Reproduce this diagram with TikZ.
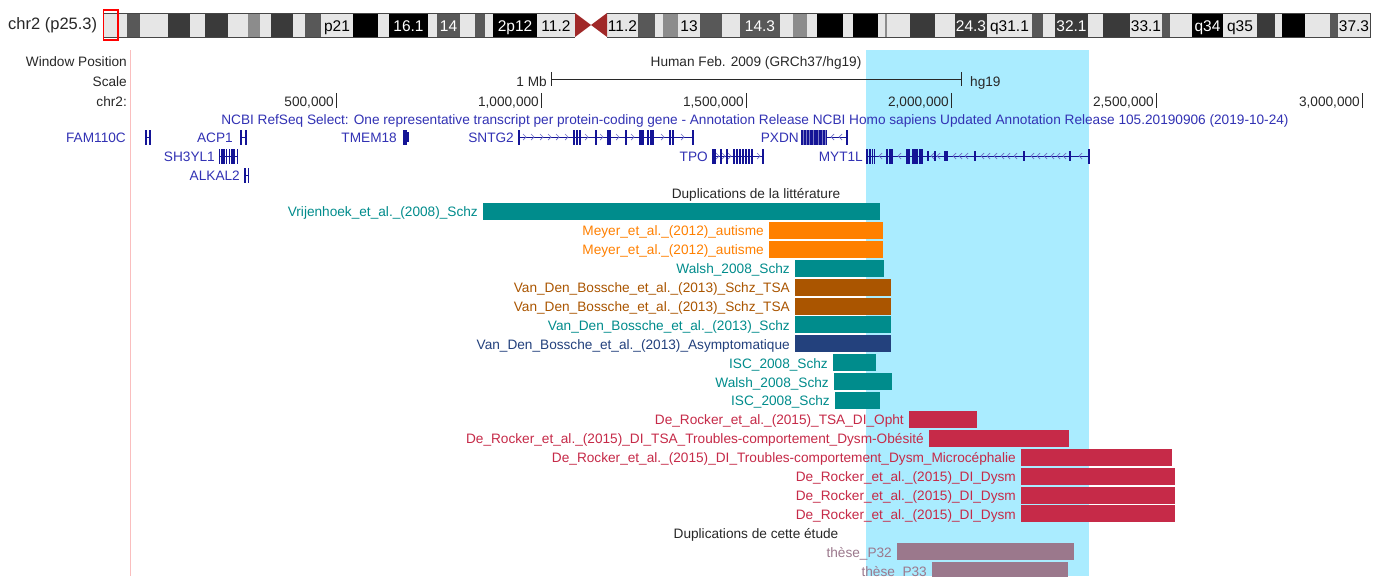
\documentclass[tikz,border=0pt]{standalone}
\usepackage{fontspec}
\setmainfont{Liberation Sans}
\definecolor{bandL}{RGB}{230,230,230}
\definecolor{bandG25}{RGB}{140,140,140}
\definecolor{bandG50}{RGB}{88,88,88}
\definecolor{bandG75}{RGB}{58,58,58}
\definecolor{bandB}{RGB}{0,0,0}
\definecolor{centro}{RGB}{160,40,40}
\definecolor{idborder}{RGB}{70,70,70}
\definecolor{hilite}{RGB}{170,236,255}
\definecolor{pinkline}{RGB}{250,190,190}
\definecolor{txtgray}{RGB}{40,40,40}
\definecolor{geneblue}{RGB}{20,20,150}
\definecolor{genetxt}{RGB}{50,50,180}
\definecolor{chevblue}{RGB}{110,110,200}
\definecolor{tealc}{RGB}{0,140,140}
\definecolor{orangec}{RGB}{255,128,0}
\definecolor{brownc}{RGB}{170,85,0}
\definecolor{navyc}{RGB}{35,65,125}
\definecolor{crimsonc}{RGB}{198,42,72}
\definecolor{mauvec}{RGB}{155,120,140}
\newcommand{\gexon}[2]{\fill[geneblue] (#1-0.65,#2-7.5) rectangle (#1+0.65,#2+7.5);}
\newcommand{\gsmall}[2]{\fill[geneblue] (#1-0.6,#2-5) rectangle (#1+0.6,#2+5);}
\newcommand{\chevR}[2]{\draw[chevron] (#1-2,#2-3) -- (#1+1,#2) -- (#1-2,#2+3);}
\newcommand{\chevL}[2]{\draw[chevron] (#1+2,#2-3) -- (#1-1,#2) -- (#1+2,#2+3);}
\tikzset{
  lbl/.style={font=\fontsize{13.65}{15}\selectfont, inner sep=0pt, text height=11.5pt, text depth=0.7pt},
  bandlbl/.style={font=\fontsize{15.5}{17}\selectfont, inner sep=0pt, text height=11pt, text depth=0pt},
  intron/.style={draw=geneblue, line width=0.9pt},
  chevron/.style={draw=chevblue, line width=0.7pt},
  tick/.style={draw=txtgray, line width=1pt},
}
\begin{document}
\begin{tikzpicture}[x=1pt,y=-1pt]
\clip (0,0) rectangle (1382,576);
\fill[white] (0,0) rectangle (1382,576);

% ---------- ideogram ----------
\node[font=\fontsize{16.5}{18}\selectfont, inner sep=0pt, text=txtgray, anchor=west] (chrlbl) at (8,25) {chr2 (p25.3)};
\foreach \a/\b/\c in {103/127/bandL,127/140/bandG50,140/168/bandL,168/190/bandG75,190/205/bandL,
  205/228/bandG75,228/248/bandL,248/260/bandG25,260/271/bandL,271/293/bandG75,293/305/bandL,
  305/321/bandG50,321/353/bandL,353/378/bandB,378/389/bandL,389/428/bandB,428/437/bandL,
  437/460/bandG50,460/475/bandL,475/485/bandG50,485/493/bandL,493/537/bandB,537/575/bandL,
  607/638/bandL,638/655/bandG50,655/663/bandL,663/678/bandG25,678/700/bandL,700/722/bandG50,
  722/740/bandL,740/780/bandG50,780/793/bandL,793/807/bandG25,807/817/bandL,817/843/bandB,
  843/853/bandL,853/878/bandB,878/885/bandL,885/887/bandG25,887/910/bandL,910/935/bandG75,
  935/955/bandL,955/987/bandG75,987/1032/bandL,1032/1043/bandG50,1043/1055/bandL,
  1055/1088/bandG75,1088/1103/bandL,1103/1130/bandG75,1130/1162/bandL,1162/1170/bandG50,
  1170/1192/bandL,1192/1223/bandB,1223/1257/bandL,1257/1275/bandG75,1275/1282/bandL,
  1282/1305/bandB,1305/1330/bandL,1330/1338/bandG50,1338/1370/bandL}
  \fill[\c] (\a,13) rectangle (\b,37);
\fill[centro] (575,13) -- (591,25) -- (575,37) -- cycle;
\fill[centro] (607,13) -- (591,25) -- (607,37) -- cycle;
\draw[idborder, line width=0.9pt] (575,13) -- (103,13) -- (103,37) -- (575,37);
\draw[idborder, line width=0.9pt] (607,13) -- (1370,13) -- (1370,37) -- (607,37);
\foreach \a/\b/\t/\c [count=\k] in {321/353/p21/black,389/428/16.1/white,437/460/14/white,
  493/537/2p12/white,537/575/11.2/black,607/638/11.2/black,678/700/13/black,740/780/14.3/white,
  955/987/24.3/white,987/1032/q31.1/black,1055/1088/32.1/white,1130/1162/33.1/black,
  1192/1223/q34/white,1223/1257/q35/black,1338/1370/37.3/black}
  \node[bandlbl, text=\c] (band\k) at ({(\a+\b)/2},25.5) {\t};
\draw[red, line width=1.3pt] (103.5,10) rectangle (118,40);

% ---------- window background ----------
\fill[hilite] (866,50) rectangle (1089,576);
\draw[pinkline, line width=1pt] (130,50) -- (130,576);

% ---------- header rows ----------
\node[lbl, text=txtgray, anchor=east] (wp) at (127,61) {Window Position};
\node[lbl, text=txtgray, anchor=east] (sc) at (127,81) {Scale};
\node[lbl, text=txtgray, anchor=east] (chr) at (127,101) {chr2:};
\node[lbl, text=txtgray] (asm) at (756,61) {Human Feb. 2009 (GRCh37/hg19)};
\coordinate (s1) at (551,79);
\coordinate (s2) at (961,79);
\draw[tick] (s1) -- (s2);
\draw[tick] (551,72) -- (551,86);
\draw[tick] (961,72) -- (961,86);
\node[lbl, text=txtgray, anchor=east] (mb) at (547,81) {1 Mb};
\node[lbl, text=txtgray, anchor=west] (hg) at (970,81) {hg19};
\foreach \x/\t [count=\k] in {336/{500,000},541/{1,000,000},746/{1,500,000},951/{2,000,000},1156/{2,500,000},1362/{3,000,000}}{
  \draw[tick] (\x,93) -- (\x,108);
  \node[lbl, text=txtgray, anchor=east] (pos\k) at (\x-2,101) {\t};
}

% ---------- genes ----------
\node[lbl, text=genetxt] (refseq) at (755,119) {NCBI RefSeq Select: One representative transcript per protein-coding gene - Annotation Release NCBI Homo sapiens Updated Annotation Release 105.20190906 (2019-10-24)};

% row 1 (y=137)
\node[lbl, text=genetxt, anchor=east] (gFAM) at (126,137) {FAM110C};
\draw[intron] (146,137) -- (150,137);
\foreach \x in {146,150} {\gexon{\x}{137}}
\node[lbl, text=genetxt, anchor=east] (gACP) at (233,137) {ACP1};
\draw[intron] (241,137) -- (246,137);
\foreach \x in {241,246} {\gexon{\x}{137}}
\node[lbl, text=genetxt, anchor=east] (gTMEM) at (397,137) {TMEM18};
\fill[geneblue] (402.5,129.5) rectangle (407,144.5);
\fill[geneblue] (407,132) rectangle (408.5,142);
\node[lbl, text=genetxt, anchor=east] (gSNTG) at (514,137) {SNTG2};
\draw[intron] (519,137) -- (693,137);
\foreach \x in {525,533,542,550,558,567,587,602,618,633,663,683} {\chevR{\x}{137}}
\foreach \x in {519,574,577,580,596,608,610,626,640,641.5,643,648,651,653,670,673,693} {\gexon{\x}{137}}
\node[lbl, text=genetxt, anchor=east] (gPXDN) at (799,137) {PXDN};
\fill[geneblue!55] (802,129.5) rectangle (827,144.5);
\foreach \x in {802,805,808,810.5,812,815,817,819.5,821,824,826.5} {\gexon{\x}{137}}
\draw[intron] (827,137) -- (847,137);
\foreach \x in {832,840} {\chevL{\x}{137}}
\gexon{847}{137}

% row 2 (y=156)
\node[lbl, text=genetxt, anchor=east] (gSH3) at (215,156) {SH3YL1};
\draw[intron] (219,156) -- (238,156);
\foreach \x in {219.5,222,224,226.5,229.5,232,234,237.5} {\gexon{\x}{156}}
\node[lbl, text=genetxt, anchor=east] (gTPO) at (708,156) {TPO};
\draw[intron] (713,156) -- (763,156);
\foreach \x in {718,724,730,759} {\chevR{\x}{156}}
\foreach \x in {713,715,721,727,734,737,740,743,746,749,752,763} {\gexon{\x}{156}}
\node[lbl, text=genetxt, anchor=east] (gMYT) at (863,156) {MYT1L};
\draw[intron] (867,156) -- (1089,156);
\foreach \x in {880,899,932,938,954,960,966,982,988,995,1002,1008,1015,1032,1038,1045,1052,1058,1064,1080} {\chevL{\x}{156}}
\foreach \x in {867,870,872.5,874.5,887,890,892,913,915,917,920,922} {\gexon{\x}{156}}
\fill[geneblue] (906,148.5) rectangle (909.5,163.5);
\foreach \x in {928,935,945,947,975,1024,1070} {\gsmall{\x}{156}}
\gexon{1089}{156}

% row 3 (y=175)
\node[lbl, text=genetxt, anchor=east] (gALK) at (240,175) {ALKAL2};
\draw[intron] (245,175) -- (248.3,175);
\foreach \x in {245,248.3} {\gexon{\x}{175}}

% ---------- duplication tracks ----------
\node[lbl, text=txtgray] (title1) at (756,192.6) {Duplications de la littérature};
\foreach \i/\a/\b/\c/\t in {
  0/483/880/tealc/Vrijenhoek\_et\_al.\_(2008)\_Schz,
  1/769/883/orangec/Meyer\_et\_al.\_(2012)\_autisme,
  2/769/883/orangec/Meyer\_et\_al.\_(2012)\_autisme,
  3/795/884/tealc/Walsh\_2008\_Schz,
  4/795/891/brownc/Van\_Den\_Bossche\_et\_al.\_(2013)\_Schz\_TSA,
  5/795/891/brownc/Van\_Den\_Bossche\_et\_al.\_(2013)\_Schz\_TSA,
  6/795/891/tealc/Van\_Den\_Bossche\_et\_al.\_(2013)\_Schz,
  7/795/891/navyc/Van\_Den\_Bossche\_et\_al.\_(2013)\_Asymptomatique,
  8/833/876/tealc/ISC\_2008\_Schz,
  9/834/892/tealc/Walsh\_2008\_Schz,
  10/835/880/tealc/ISC\_2008\_Schz,
  11/909/977/crimsonc/De\_Rocker\_et\_al.\_(2015)\_TSA\_DI\_Opht,
  12/929/1069/crimsonc/De\_Rocker\_et\_al.\_(2015)\_DI\_TSA\_Troubles-comportement\_Dysm-Obésité,
  13/1021/1172/crimsonc/De\_Rocker\_et\_al.\_(2015)\_DI\_Troubles-comportement\_Dysm\_Microcéphalie,
  14/1021/1175/crimsonc/De\_Rocker\_et\_al.\_(2015)\_DI\_Dysm,
  15/1021/1175/crimsonc/De\_Rocker\_et\_al.\_(2015)\_DI\_Dysm,
  16/1021/1175/crimsonc/De\_Rocker\_et\_al.\_(2015)\_DI\_Dysm,
  18/897/1074/mauvec/thèse\_P32,
  19/932/1068/mauvec/thèse\_P33}{
  \pgfmathsetmacro\yy{211.5+18.9*\i}
  \fill[\c] (\a,\yy-8.5) rectangle (\b,\yy+8.5);
  \node[lbl, text=\c, anchor=east] (lab\i) at (\a-5,\yy) {\t};
}
\node[lbl, text=txtgray] (title2) at (756,532.8) {Duplications de cette étude};
\end{tikzpicture}
\end{document}
